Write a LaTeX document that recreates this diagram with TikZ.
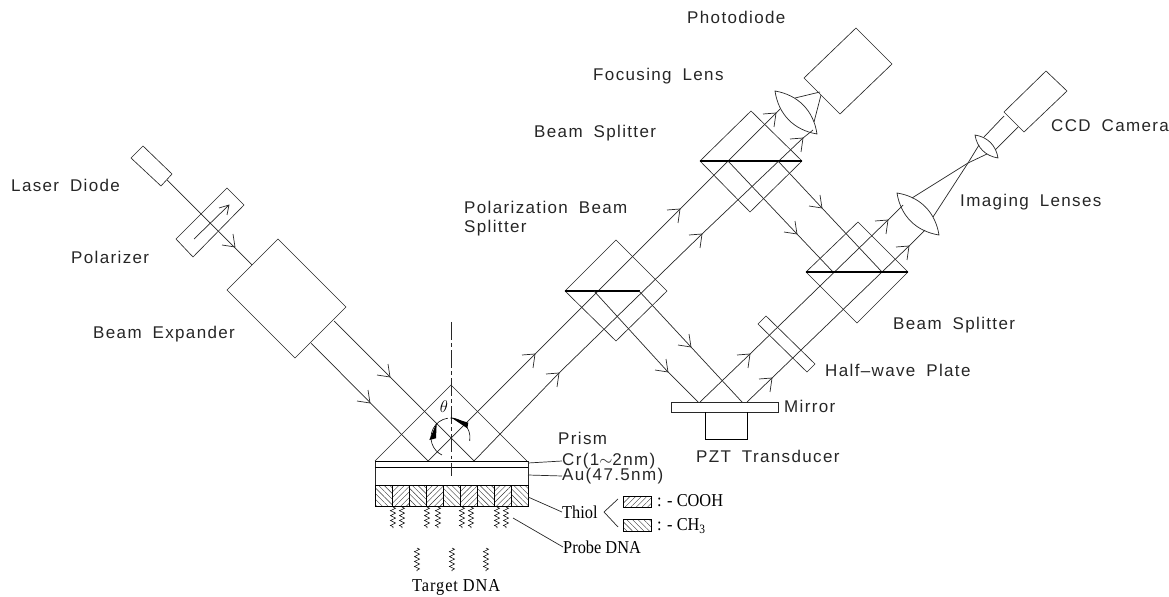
\documentclass[tikz,border=0pt]{standalone}
\usepackage{fontspec}
\usepackage{tikz}
\usetikzlibrary{calc,patterns.meta,decorations.pathmorphing,positioning}
\newfontfamily\sanslabel[LetterSpace=8,WordSpace=1.8]{Liberation Sans}
\newfontfamily\seriflabel[FakeStretch=0.9]{Liberation Serif}
\definecolor{optline}{RGB}{40,40,40}
\tikzset{
  optic/.style={draw=optline,line width=0.55pt,line join=miter},
  beam/.style={draw=optline,line width=0.6pt},
  splitter/.style={black,line width=1.1pt},
  lab/.style={anchor=west,inner sep=0pt,font=\sanslabel\fontsize{14.5}{15}\selectfont,text=black!85},
  serlab/.style={anchor=west,inner sep=0pt,font=\seriflabel\fontsize{15.5}{16}\selectfont,text=black},
  dna/.style={line width=0.45pt,decorate,decoration={zigzag,amplitude=2.2pt,segment length=4.2pt}},
  hatchup/.style={line width=0.7pt,pattern={Lines[angle=45,distance=3.4pt,line width=0.35pt]},pattern color=black!80},
  hatchdown/.style={line width=0.7pt,pattern={Lines[angle=-45,distance=3.4pt,line width=0.35pt]},pattern color=black!80},
}
\newcommand{\lensat}[2]{\draw[optic,line width=0.6pt] #1 to[bend left=36] #2 to[bend left=36] cycle;}
\begin{document}
\begin{tikzpicture}[x=0.03cm,y=-0.03cm]
  \useasboundingbox (0,0) rectangle (1169,597);
  % laser, polarizer and expander
  \draw[optic] (143,146) -- (172,174) -- (161,186) -- (131,158) -- cycle;
  \draw[optic] (227,188) -- (244,205) -- (193,257) -- (176,239) -- cycle;
  \draw[beam] (194,239) -- (229,205) (219,208) -- (229,205) -- (227,215);
  \draw[beam] (167,180) -- (252,265);
  \draw[optic] (278,239) -- (346,307) -- (295,358) -- (227,290) -- cycle;
  % beams onto the prism and out of it
  \draw[beam] (311,343) -- (428,461);
  \draw[beam] (334,321) -- (474,461);
  \draw[beam] (428,461) -- (780,109);
  \draw[beam] (474,461) -- (559,373) -- (702,234) -- (803,138) -- (813,130);
  % prism and layers
  \draw[optic] (375,461) -- (451,385) -- (527,461);
  \draw[optic,line width=0.7pt] (375,461) rectangle (528,485);
  \draw[black,line width=0.8pt] (375,461) -- (528,461);
  \draw[black,line width=0.8pt] (375,467) -- (528,467);
  \foreach \xa/\xb/\hatch in {375/392/hatchdown,392/409/hatchup,409/426/hatchdown,426/443/hatchup,443/460/hatchdown,460/477/hatchup,477/494/hatchdown,494/511/hatchup,511/528/hatchdown}
     \draw[\hatch] (\xa,485) rectangle (\xb,506);
  \draw[optline,line width=0.6pt,dash pattern=on 15pt off 3pt on 3pt off 3pt] (451,322) -- (451,476);
  \node[inner sep=0pt,font=\fontsize{15}{16}\selectfont] (theta) at (444,407) {$\theta$};
  \draw[black,line width=0.5pt] (450.5,437.5) ++(116:19.5) arc[start angle=116,end angle=262,radius=19.5];
  \draw[black,line width=0.5pt] (450.5,437.5) ++(10:19.5) arc[start angle=10,end angle=-90,radius=19.5];
  \fill[black] (436.7,422.7) -- (429.3,440) -- (436,438.3) -- cycle;
  \fill[black] (450.7,417.3) -- (468.3,422.7) -- (467.3,428.3) -- cycle;
  % DNA strands
  \foreach \x in {393,402,427,438,462,471,497,506}
     \draw[dna] (\x,507) -- (\x,528);
  \foreach \x in {417,452,486}
     \draw[dna] (\x,548) -- (\x,571);
  % polarization beam splitter
  \draw[optic] (565,291) -- (616,240) -- (667,291) -- (616,341) -- cycle;
  \draw[splitter] (565,291) -- (640,291);
  \draw[beam] (594,291) -- (668,372) -- (698,402);
  \draw[beam] (639,291) -- (691,347) -- (742,402);
  % mirror, PZT, half-wave plate
  \draw[optic,line width=0.8pt] (671,402) rectangle (778,412);
  \draw[black,line width=0.8pt] (705,412) -- (705,439) -- (747,439) -- (747,412);
  \draw[optic] (766,316) -- (815,364) -- (807,372) -- (758,324) -- cycle;
  \draw[beam] (700,402) -- (750,354) -- (888,220) -- (903,205);
  \draw[beam] (747,402) -- (772,378) -- (909,246) -- (925,230);
  % upper beam splitter and photodiode
  \draw[optic] (700,161) -- (751,111) -- (802,161) -- (750,212) -- cycle;
  \draw[splitter] (700,161) -- (802,161);
  \draw[beam] (728,161) -- (797,234) -- (833,272);
  \draw[beam] (778,161) -- (822,208) -- (882,272);
  \lensat{(775,91)}{(817,134)}
  \draw[beam] (795,98) -- (820,92);
  \draw[beam] (814,122) -- (821,95);
  \draw[optic] (856,28) -- (892,64) -- (840,114) -- (804,78) -- cycle;
  % second beam splitter, imaging lenses, camera
  \draw[optic] (806,272) -- (858,222) -- (908,272) -- (857,323) -- cycle;
  \draw[splitter] (806,272) -- (908,272);
  \lensat{(897,193)}{(939,235)}
  \draw[beam] (912,198) -- (968,163) -- (987,154);
  \draw[beam] (933,217) -- (968,163) -- (979,145);
  \lensat{(975,135)}{(998,158)}
  \draw[beam] (984,137) -- (1004,116);
  \draw[beam] (995,150) -- (1018,127);
  \draw[optic] (1046,71) -- (1067,91) -- (1024,132) -- (1004,112) -- cycle;
  % open tips, up-right beams then down-right beams
  \foreach \tx/\ty in {535/354,680/209,776/113,559/373,702/234,803/138,750/354,772/378,888/220,909/246}
     \draw[beam] (\tx-13,\ty+1) -- (\tx,\ty) -- (\tx-2,\ty+14);
  \foreach \tx/\ty in {235/247,390/377,370/403,668/372,691/347,797/234,822/208}
     \draw[beam] (\tx-13,\ty-2) -- (\tx,\ty) -- (\tx-2,\ty-13);
  % labels
  \node[lab] (laserlab) at (11,185) {Laser Diode};
  \node[lab] (polarlab) at (71,257) {Polarizer};
  \node[lab] (expandlab) at (93,334) {Beam Expander};
  \node[lab] (pbslab) at (464,207) {Polarization Beam};
  \node[lab] (pbslab2) at (464,228) {Splitter};
  \node[lab] (diodelab) at (687,17) {Photodiode};
  \node[lab] (focuslab) at (593,76) {Focusing Lens};
  \node[lab] (splitlab) at (534,133) {Beam Splitter};
  \node[lab] (imaglab) at (960,202) {Imaging Lenses};
  \node[lab] (ccdlab) at (1051,126) {CCD Camera};
  \node[lab] (split2lab) at (893,325) {Beam Splitter};
  \node[lab] (halflab) at (825,370) {Half–wave Plate};
  \node[lab] (mirrorlab) at (784,406) {Mirror};
  \node[lab] (pztlab) at (696,456) {PZT Transducer};
  \node[lab] (prismlab) at (558,438) {Prism};
  \node[lab] (crlab) at (562,461) {Cr(1$\sim$2nm)};
  \node[lab] (aulab) at (562,476) {Au(47.5nm)};
  \node[serlab] (thiollab) at (562,512) {Thiol};
  \node[serlab] (probelab) at (563,547) {Probe DNA};
  \node[serlab,font=\seriflabel\fontsize{15.5}{16}\selectfont\addfontfeature{LetterSpace=5}] (targetlab) at (412,587) {Target DNA};
  \node[serlab] (cooh) at (657,501) {: - COOH};
  \node[serlab] (methyl) at (657,526) {: - CH\textsubscript{3}};
  % leaders and thiol key
  \draw[beam] (528,463) -- (crlab.west);
  \draw[beam] (528,475) -- (aulab.west);
  \draw[beam] (528,497) -- (thiollab.west);
  \draw[beam] (513,518) -- (probelab.west);
  \draw[beam] (618,499) -- (604,512) -- (618,527);
  \draw[hatchup] (623,496) rectangle (651,507);
  \draw[hatchdown] (623,519) rectangle (651,531);
\end{tikzpicture}
\end{document}
